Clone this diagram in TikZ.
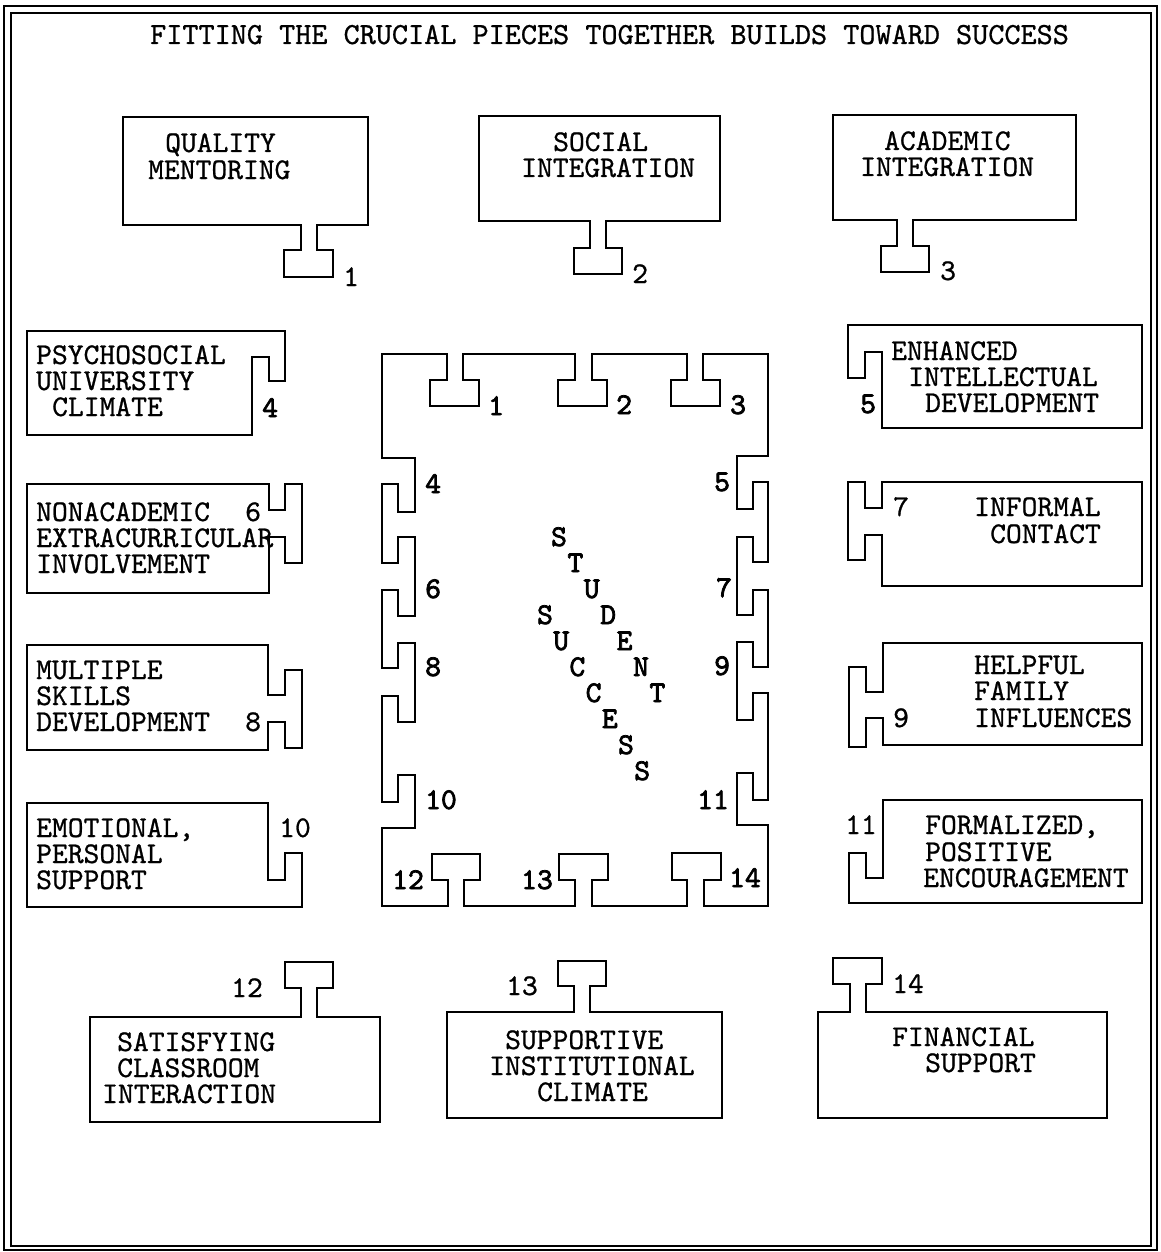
\documentclass[tikz,border=0pt]{standalone}
\usepackage{fontspec}
\newfontfamily\tbold{lmmono10-regular}[Extension=.otf, FakeBold=2.5]
\newfontfamily\tnorm{lmmono10-regular}[Extension=.otf, FakeBold=0.8]
\tikzset{
  piece/.style={draw=black, line width=1.8pt, line join=miter},
  txt/.style={inner sep=0pt, anchor=base west, text height=19pt, text depth=3pt, font=\tnorm\fontsize{30.1}{30.1}\selectfont},
  ttl/.style={txt, font=\tnorm\fontsize{30.7}{30.7}\selectfont},
  num/.style={inner sep=0pt, anchor=base west, text height=19pt, text depth=0pt, font=\tbold\fontsize{30.1}{30.1}\selectfont},
  let/.style={inner sep=0pt, anchor=base, text height=19pt, text depth=0pt, font=\tbold\fontsize{30.1}{30.1}\selectfont},
}
\begin{document}
\begin{tikzpicture}[x=1pt,y=-1pt]
\useasboundingbox (0,0) rectangle (1160,1252);
% outer double border
\draw[line width=1.8pt] (4,6) rectangle (1157,1250);
\draw[line width=1.8pt] (11,13) rectangle (1151,1246);
\node[ttl] (title) at (150,44) {FITTING THE CRUCIAL PIECES TOGETHER BUILDS TOWARD SUCCESS};

% central frame
\draw[piece] (382,354) -- (447,354) -- (447,380) -- (430,380) -- (430,406) -- (479,406) -- (479,380) -- (463,380) -- (463,354)
 -- (575,354) -- (575,380) -- (558,380) -- (558,406) -- (607,406) -- (607,380) -- (592,380) -- (592,354)
 -- (687,354) -- (687,380) -- (671,380) -- (671,406) -- (720,406) -- (720,380) -- (703,380) -- (703,354) -- (768,354)
 -- (768,456) -- (737,456) -- (737,509) -- (753,509) -- (753,482) -- (768,482) -- (768,562) -- (753,562) -- (753,537) -- (737,537)
 -- (737,615) -- (753,615) -- (753,590) -- (768,590) -- (768,667) -- (753,667) -- (753,642) -- (737,642) -- (737,720) -- (753,720)
 -- (753,693) -- (768,693) -- (768,800) -- (753,800) -- (753,773) -- (737,773) -- (737,825) -- (768,825) -- (768,906)
 -- (704,906) -- (704,880) -- (721,880) -- (721,853) -- (672,853) -- (672,880) -- (687,880) -- (687,906)
 -- (592,906) -- (592,880) -- (608,880) -- (608,854) -- (559,854) -- (559,880) -- (575,880) -- (575,906)
 -- (464,906) -- (464,880) -- (480,880) -- (480,854) -- (432,854) -- (432,880) -- (448,880) -- (448,906) -- (382,906)
 -- (382,828) -- (415,828) -- (415,775) -- (398,775) -- (398,802) -- (382,802) -- (382,696) -- (398,696) -- (398,722) -- (415,722)
 -- (415,643) -- (398,643) -- (398,668) -- (382,668) -- (382,590) -- (398,590) -- (398,616) -- (415,616) -- (415,537) -- (398,537)
 -- (398,563) -- (382,563) -- (382,484) -- (398,484) -- (398,512) -- (415,512) -- (415,458) -- (382,458) -- cycle;

% frame numbers
\node[num] (f1) at (488,415) {1};
\node[num] (f2) at (616,414) {2};
\node[num] (f3) at (730,414) {3};
\node[num] (f4) at (425,493) {4};
\node[num] (f5) at (714,491) {5};
\node[num] (f6) at (425,598) {6};
\node[num] (f7) at (716,597) {7};
\node[num] (f8) at (425,676) {8};
\node[num] (f9) at (714,675) {9};
\node[num] (f10) at (425,809) {10};
\node[num] (f11) at (697,809) {11};
\node[num] (f12) at (392,889) {12};
\node[num] (f13) at (521,889) {13};
\node[num] (f14) at (729,887) {14};

% STUDENT SUCCESS
\foreach \c [count=\i from 0] in {S,T,U,D,E,N,T}
  \node[let] (a\i) at ({559+16.4*\i},{546+26*\i}) {\c};
\foreach \c [count=\i from 0] in {S,U,C,C,E,S,S}
  \node[let] (b\i) at ({545+16.2*\i},{624+26*\i}) {\c};

% piece 1
\draw[piece] (123,117) -- (368,117) -- (368,225) -- (317,225) -- (317,250) -- (333,250) -- (333,277) -- (284,277) -- (284,250) -- (301,250) -- (301,225) -- (123,225) -- cycle;
\node[txt] (p1a) at (165,152) {QUALITY};
\node[txt] (p1b) at (148,179) {MENTORING};
\node[txt] (p1n) at (343,286) {1};
% piece 2
\draw[piece] (479,116) -- (720,116) -- (720,221) -- (606,221) -- (606,248) -- (622,248) -- (622,274) -- (574,274) -- (574,248) -- (590,248) -- (590,221) -- (479,221) -- cycle;
\node[txt] (p2a) at (553,151) {SOCIAL};
\node[txt] (p2b) at (521,177) {INTEGRATION};
\node[txt] (p2n) at (632,283) {2};
% piece 3
\draw[piece] (833,115) -- (1076,115) -- (1076,220) -- (913,220) -- (913,246) -- (929,246) -- (929,272) -- (881,272) -- (881,246) -- (897,246) -- (897,220) -- (833,220) -- cycle;
\node[txt] (p3a) at (884,150) {ACADEMIC};
\node[txt] (p3b) at (860,176) {INTEGRATION};
\node[txt] (p3n) at (940,280) {3};
% piece 4
\draw[piece] (27,331) -- (285,331) -- (285,381) -- (269,381) -- (269,357) -- (252,357) -- (252,435) -- (27,435) -- cycle;
\node[txt] (p4a) at (36,364) {PSYCHOSOCIAL};
\node[txt] (p4b) at (36,390) {UNIVERSITY};
\node[txt] (p4c) at (52,416) {CLIMATE};
\node[num] (p4n) at (262,417) {4};
% piece 5
\draw[piece] (848,325) -- (1142,325) -- (1142,428) -- (882,428) -- (882,352) -- (865,352) -- (865,378) -- (848,378) -- cycle;
\node[txt] (p5a) at (891,360) {ENHANCED};
\node[txt] (p5b) at (908,386) {INTELLECTUAL};
\node[txt] (p5c) at (925,412) {DEVELOPMENT};
\node[num] (p5n) at (860,413) {5};
% piece 6
\draw[piece] (27,484) -- (269,484) -- (269,510) -- (285,510) -- (285,484) -- (302,484) -- (302,563) -- (285,563) -- (285,537) -- (269,537) -- (269,593) -- (27,593) -- cycle;
\node[txt] (p6a) at (36,521) {NONACADEMIC};
\node[txt] (p6b) at (36,547) {EXTRACURRICULAR};
\node[txt] (p6c) at (36,573) {INVOLVEMENT};
\node[txt] (p6n) at (245,521) {6};
% piece 7
\draw[piece] (882,482) -- (1142,482) -- (1142,586) -- (882,586) -- (882,535) -- (865,535) -- (865,560) -- (848,560) -- (848,482) -- (865,482) -- (865,508) -- (882,508) -- cycle;
\node[txt] (p7n) at (893,516) {7};
\node[txt] (p7a) at (974,516) {INFORMAL};
\node[txt] (p7b) at (990,543) {CONTACT};
% piece 8
\draw[piece] (27,645) -- (268,645) -- (268,695) -- (285,695) -- (285,670) -- (302,670) -- (302,748) -- (285,748) -- (285,722) -- (268,722) -- (268,750) -- (27,750) -- cycle;
\node[txt] (p8a) at (36,679) {MULTIPLE};
\node[txt] (p8b) at (36,705) {SKILLS};
\node[txt] (p8c) at (36,731) {DEVELOPMENT};
\node[txt] (p8n) at (245,731) {8};
% piece 9
\draw[piece] (883,643) -- (1142,643) -- (1142,745) -- (883,745) -- (883,718) -- (866,718) -- (866,747) -- (849,747) -- (849,667) -- (866,667) -- (866,692) -- (883,692) -- cycle;
\node[txt] (p9a) at (974,674) {HELPFUL};
\node[txt] (p9b) at (974,700) {FAMILY};
\node[txt] (p9c) at (974,727) {INFLUENCES};
\node[txt] (p9n) at (893,727) {9};
% piece 10
\draw[piece] (27,803) -- (268,803) -- (268,880) -- (285,880) -- (285,853) -- (302,853) -- (302,907) -- (27,907) -- cycle;
\node[txt] (p10a) at (36,837) {EMOTIONAL,};
\node[txt] (p10b) at (36,863) {PERSONAL};
\node[txt] (p10c) at (36,889) {SUPPORT};
\node[txt] (p10n) at (279,837) {10};
% piece 11
\draw[piece] (883,800) -- (1142,800) -- (1142,903) -- (849,903) -- (849,853) -- (866,853) -- (866,878) -- (883,878) -- cycle;
\node[txt] (p11n) at (845,834) {11};
\node[txt] (p11a) at (925,834) {FORMALIZED,};
\node[txt] (p11b) at (925,861) {POSITIVE};
\node[txt] (p11c) at (923,887) {ENCOURAGEMENT};
% piece 12
\draw[piece] (90,1017) -- (301,1017) -- (301,988) -- (285,988) -- (285,962) -- (333,962) -- (333,988) -- (317,988) -- (317,1017) -- (380,1017) -- (380,1122) -- (90,1122) -- cycle;
\node[txt] (p12n) at (231,997) {12};
\node[txt] (p12a) at (117,1051) {SATISFYING};
\node[txt] (p12b) at (117,1077) {CLASSROOM};
\node[txt] (p12c) at (102,1103) {INTERACTION};
% piece 13
\draw[piece] (447,1012) -- (574,1012) -- (574,986) -- (558,986) -- (558,961) -- (606,961) -- (606,986) -- (590,986) -- (590,1012) -- (722,1012) -- (722,1118) -- (447,1118) -- cycle;
\node[txt] (p13n) at (506,995) {13};
\node[txt] (p13a) at (505,1049) {SUPPORTIVE};
\node[txt] (p13b) at (489,1075) {INSTITUTIONAL};
\node[txt] (p13c) at (537,1101) {CLIMATE};
% piece 14
\draw[piece] (818,1012) -- (850,1012) -- (850,984) -- (833,984) -- (833,958) -- (882,958) -- (882,984) -- (866,984) -- (866,1012) -- (1107,1012) -- (1107,1118) -- (818,1118) -- cycle;
\node[txt] (p14n) at (892,993) {14};
\node[txt] (p14a) at (892,1046) {FINANCIAL};
\node[txt] (p14b) at (925,1072) {SUPPORT};
\end{tikzpicture}
\end{document}
